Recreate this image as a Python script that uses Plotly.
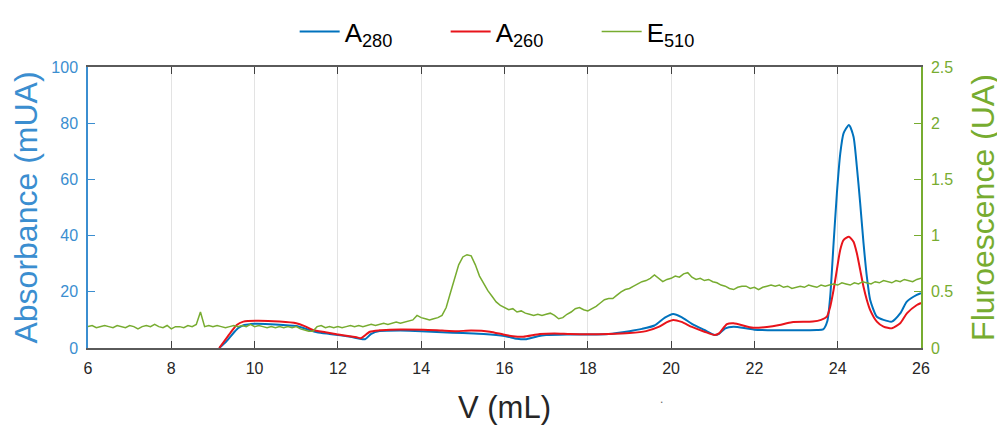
import numpy as np
import plotly.graph_objects as go

# ---------------- data ----------------
v_a280 = [9.15, 9.3, 9.45, 9.6, 9.75, 9.9, 10.0, 10.5, 11.0, 11.3, 11.5, 11.8, 12.0, 12.3, 12.5, 12.65,
          12.8, 13.0, 13.5, 14.0, 14.5, 15.0, 15.5, 16.0, 16.3, 16.5, 16.8, 17.0, 17.5, 18.0, 18.5,
          19.0, 19.3, 19.6, 19.85, 20.05, 20.25, 20.5, 20.8, 21.05, 21.15, 21.3, 21.5, 21.8, 22.0,
          22.5, 23.0, 23.5, 23.65, 23.75, 23.82, 23.9, 23.98, 24.06, 24.14, 24.27, 24.38, 24.46,
          24.54, 24.62, 24.7, 24.78, 24.94, 25.1, 25.3, 25.5, 25.66, 25.9, 26.0]
a280 = [0.0, 2.0, 4.6, 7.0, 8.2, 8.5, 8.6, 8.4, 7.8, 6.5, 5.6, 5.0, 4.6, 4.0, 3.4, 3.1,
        5.0, 6.0, 6.2, 6.0, 5.6, 5.3, 5.0, 4.3, 3.3, 3.1, 4.2, 4.6, 4.8, 4.8, 5.0,
        6.0, 6.8, 8.0, 10.8, 12.1, 11.0, 8.6, 6.4, 4.6, 5.0, 7.0, 7.6, 7.0, 6.5,
        6.3, 6.3, 6.4, 6.6, 9.5, 18.3, 37.0, 55.0, 69.0, 76.4, 79.4, 75.2, 64.5,
        51.5, 37.3, 25.4, 17.1, 11.1, 10.0, 9.4, 12.3, 16.5, 18.9, 19.5]

v_a260 = [9.15, 9.3, 9.45, 9.57, 9.73, 10.05, 10.6, 11.0, 11.2, 11.4, 11.7, 11.97, 12.2, 12.45, 12.55,
          12.77, 13.0, 13.25, 13.5, 14.05, 14.5, 14.85, 15.2, 15.65, 15.97, 16.2, 16.45, 16.85,
          17.2, 17.57, 18.0, 18.5, 19.0, 19.4, 19.7, 19.9, 20.05, 20.25, 20.5, 20.8, 21.05, 21.15,
          21.34, 21.5, 21.97, 22.3, 22.6, 22.9, 23.4, 23.6, 23.74, 23.82, 23.9, 23.98, 24.06,
          24.14, 24.27, 24.38, 24.46, 24.54, 24.62, 24.7, 24.78, 24.94, 25.1, 25.3, 25.5, 25.66,
          25.9, 26.0]
a260 = [0.0, 3.0, 6.0, 8.2, 9.4, 9.7, 9.4, 8.8, 7.8, 6.4, 5.6, 4.9, 4.4, 3.8, 3.5,
        5.8, 6.3, 6.5, 6.6, 6.5, 6.2, 6.0, 6.2, 5.8, 4.8, 4.2, 4.0, 5.0,
        5.2, 5.0, 4.9, 5.0, 5.3, 6.0, 7.5, 9.2, 10.0, 9.3, 7.5, 5.8, 4.6, 5.2,
        8.5, 8.8, 7.2, 7.5, 8.2, 9.2, 9.4, 10.0, 11.2, 14.7, 20.6, 27.8, 34.9,
        38.4, 39.6, 37.8, 33.7, 27.8, 21.8, 17.1, 13.5, 9.4, 7.6, 7.0, 8.8, 12.3,
        15.3, 16.0]

v_e510 = [round(6.0 + 0.1 * i, 1) for i in range(201)]
e510 = [0.19, 0.20, 0.18, 0.19, 0.20, 0.19, 0.18, 0.20, 0.19, 0.18,
        0.20, 0.19, 0.17, 0.19, 0.20, 0.19, 0.21, 0.19, 0.18, 0.20,
        0.17, 0.19, 0.19, 0.18, 0.20, 0.19, 0.21, 0.32, 0.19, 0.20,
        0.19, 0.20, 0.19, 0.18, 0.19, 0.20, 0.19, 0.20, 0.19, 0.21,
        0.19, 0.20, 0.19, 0.18, 0.19, 0.18, 0.19, 0.18, 0.19, 0.18,
        0.19, 0.17, 0.16, 0.15, 0.15, 0.19, 0.20, 0.18, 0.19, 0.18,
        0.19, 0.18, 0.19, 0.20, 0.19, 0.20, 0.19, 0.20, 0.21, 0.20,
        0.21, 0.22, 0.21, 0.22, 0.23, 0.22, 0.23, 0.24, 0.25, 0.29,
        0.27, 0.26, 0.25, 0.26, 0.27, 0.29, 0.36, 0.49, 0.62, 0.74,
        0.81, 0.83, 0.82, 0.74, 0.64, 0.57, 0.51, 0.46, 0.41, 0.38,
        0.36, 0.34, 0.35, 0.32, 0.33, 0.31, 0.30, 0.29, 0.30, 0.29,
        0.30, 0.31, 0.29, 0.26, 0.27, 0.30, 0.32, 0.35, 0.36, 0.34,
        0.33, 0.35, 0.37, 0.40, 0.43, 0.44, 0.44, 0.47, 0.50, 0.52,
        0.53, 0.55, 0.57, 0.59, 0.60, 0.62, 0.65, 0.62, 0.59, 0.61,
        0.62, 0.64, 0.63, 0.66, 0.67, 0.63, 0.61, 0.62, 0.60, 0.61,
        0.59, 0.58, 0.56, 0.55, 0.53, 0.52, 0.54, 0.55, 0.55, 0.53,
        0.54, 0.52, 0.54, 0.55, 0.56, 0.55, 0.56, 0.54, 0.55, 0.53,
        0.54, 0.55, 0.54, 0.56, 0.55, 0.54, 0.56, 0.55, 0.56, 0.57,
        0.56, 0.58, 0.57, 0.56, 0.58, 0.57, 0.59, 0.58, 0.57, 0.59,
        0.58, 0.60, 0.59, 0.58, 0.60, 0.59, 0.61, 0.60, 0.59, 0.61,
        0.62]

x_ticks = [6, 8, 10, 12, 14, 16, 18, 20, 22, 24, 26]
y_left_ticks = [0, 20, 40, 60, 80, 100]
y_right_ticks = [0, 0.5, 1, 1.5, 2, 2.5]
y_right_labels = ["0", "0.5", "1", "1.5", "2", "2.5"]

BLUE = "#0072BD"
AXBLUE = "#3B8ED0"
RED = "#E8141B"
GREEN = "#77AC30"
FONT = "Liberation Sans, Arial, sans-serif"

# layout geometry (figure pixels; the page adds an 8px body margin)
W, H = 997, 417
M_L, M_R, M_T, M_B = 80, 84, 0, 77
PLOT_TOP = 59
area_h = H - M_T - M_B
dom_top = (H - M_B - PLOT_TOP) / area_h

fig = go.Figure()
fig.add_trace(go.Scatter(x=v_a280, y=a280, mode="lines", name="A<sub>280</sub>",
                         line=dict(color=BLUE, width=2, shape="spline", smoothing=0.6)))
fig.add_trace(go.Scatter(x=v_a260, y=a260, mode="lines", name="A<sub>260</sub>",
                         line=dict(color=RED, width=2, shape="spline", smoothing=0.6)))
fig.add_trace(go.Scatter(x=v_e510, y=e510, mode="lines", name="E<sub>510</sub>", yaxis="y2",
                         line=dict(color=GREEN, width=1.5)))

fig.add_annotation(x=0.693, y=-(400 - (H - M_B)) / area_h, xref="paper", yref="paper", text=".",
                   showarrow=False, font=dict(size=12, color="#666666"))

fig.update_layout(
    width=W, height=H,
    margin=dict(l=M_L, r=M_R, t=M_T, b=M_B, autoexpand=False),
    paper_bgcolor="white", plot_bgcolor="white",
    font=dict(family=FONT, color="#262626"),
    showlegend=True,
    legend=dict(orientation="h", x=0.52, xanchor="center", y=1.0, yanchor="top",
                font=dict(size=26, color="#000000"), itemwidth=40,
                entrywidth=96, entrywidthmode="pixels", bgcolor="rgba(0,0,0,0)"),
    xaxis=dict(range=[6, 26], tickvals=x_ticks, ticktext=[str(t) for t in x_ticks],
               ticks="inside", ticklen=7, tickcolor="#404040", tickwidth=1.2,
               showline=True, linecolor="#5a5a5a", linewidth=1.5, mirror="ticks",
               showgrid=True, gridcolor="#e3e3e3", gridwidth=1, zeroline=False,
               tickfont=dict(size=16, color="#262626"), ticklabelstandoff=5,
               title=dict(text="V (mL)", font=dict(size=31, color="#262626"), standoff=21)),
    yaxis=dict(domain=[0, dom_top], range=[0, 100], tickvals=y_left_ticks, ticks="inside", ticklen=7,
               tickcolor=AXBLUE, tickwidth=1.2, showline=True, linecolor=AXBLUE, linewidth=1.5,
               showgrid=False, zeroline=False, tickfont=dict(size=16, color=AXBLUE),
               ticklabelstandoff=5,
               title=dict(text="Absorbance (mUA)", font=dict(size=32, color=AXBLUE), standoff=4)),
    yaxis2=dict(range=[0, 2.5], tickvals=y_right_ticks, ticktext=y_right_labels, overlaying="y",
                side="right", ticks="inside", ticklen=7, tickcolor=GREEN, tickwidth=1.2,
                showline=True, linecolor=GREEN, linewidth=1.5, showgrid=False, zeroline=False,
                tickfont=dict(size=16, color=GREEN), ticklabelstandoff=5,
                title=dict(text="Fluroescence (UA)", font=dict(size=32, color=GREEN), standoff=19)),
)

fig.write_html("out.html")
